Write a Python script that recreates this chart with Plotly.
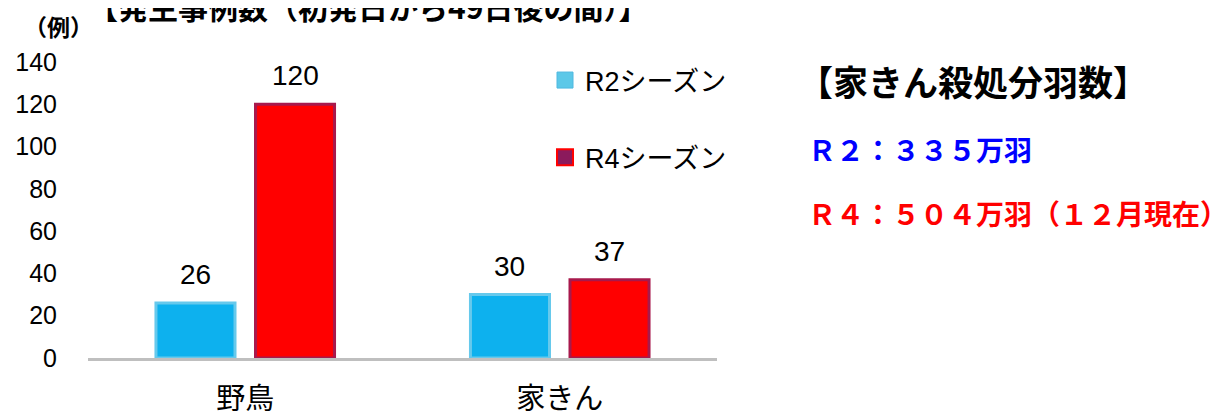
import plotly.graph_objects as go

categories = ["野鳥", "家きん"]
series_names = ["R2シーズン", "R4シーズン"]
r2_values = [26, 30]
r4_values = [120, 37]
y_ticks = [0, 20, 40, 60, 80, 100, 120, 140]

W, H = 1229, 411
OFF = 8  # page body margin
# plot area in screen pixels: x 88..717, y 62..358
L, T = 88 - OFF, 62 - OFF
R = W - (717 - OFF)
B = H - (358 - OFF)
PW, PH = W - L - R, H - T - B


def px_x(px):
    return (px - OFF - L) / PW


def px_y(py):
    return (H - B - (py - OFF)) / PH


JP = "Noto Sans CJK JP"
LAT = "Liberation Sans, Arial, Noto Sans CJK JP"

fig = go.Figure()
fig.add_trace(go.Bar(
    x=categories, y=r2_values, name=series_names[0], showlegend=False,
    marker=dict(color="#0DB1EE", line=dict(color="#66C9EC", width=3)),
))
fig.add_trace(go.Bar(
    x=categories, y=r4_values, name=series_names[1], showlegend=False,
    marker=dict(color="#FF0000", line=dict(color="#A8194C", width=3)),
))

# legend-only entries
fig.add_trace(go.Scatter(
    x=[None], y=[None], mode="markers", name=series_names[0], legendgroup="a",
    xaxis="x2", yaxis="y2",
    marker=dict(symbol="square", size=16, color="#5CC8E8", line=dict(color="#4FB8E0", width=1)),
))
fig.add_trace(go.Scatter(
    x=[None], y=[None], mode="markers", name=series_names[1], legendgroup="b",
    xaxis="x2", yaxis="y2",
    marker=dict(symbol="square", size=16, color="#8B1A5C", line=dict(color="#FF0000", width=2)),
))

# value labels
for vals, shift in ((r2_values, -50), (r4_values, 50)):
    for c, v in zip(categories, vals):
        fig.add_annotation(x=c, y=v, xref="x", yref="y", text=str(v), showarrow=False,
                           xshift=shift, yanchor="bottom", yshift=11,
                           font=dict(family=LAT, size=28, color="#000000"))

annots = [
    dict(text="<b>【発生事例数（初発日から49日後の間）】</b>", x=px_x(86), y=px_y(6), size=30, color="#000000"),
    dict(text="<b>（例）</b>", x=px_x(22), y=px_y(26), size=23, color="#000000"),
    dict(text="<b>【家きん殺処分羽数】</b>", x=px_x(796), y=px_y(81), size=35, color="#000000"),
    dict(text="<b>Ｒ２：３３５万羽</b>", x=px_x(806), y=px_y(149), size=28, color="#0000FF"),
    dict(text="<b>Ｒ４：５０４万羽（１２月現在）</b>", x=px_x(806), y=px_y(213), size=28, color="#FF0000"),
]
for a in annots:
    fig.add_annotation(text=a["text"], x=a["x"], y=a["y"], xref="paper", yref="paper",
                       xanchor="left", yanchor="middle", showarrow=False,
                       font=dict(family=JP, size=a["size"], color=a["color"]))

fig.update_layout(
    width=W, height=H,
    margin=dict(l=L, r=R, t=T, b=B, pad=0, autoexpand=False),
    paper_bgcolor="white", plot_bgcolor="white",
    barmode="group", bargap=0.367, bargroupgap=0.206,
    xaxis=dict(
        showgrid=False, showline=True, linecolor="#BFBFBF", linewidth=3,
        tickfont=dict(family=JP, size=29, color="#000000"),
        ticks="", ticklabelstandoff=13, automargin=False,
    ),
    yaxis=dict(
        range=[0, 140], tickvals=y_ticks, showgrid=False, showline=False,
        zeroline=False, ticks="", ticklabelstandoff=30, automargin=False,
        tickfont=dict(family=LAT, size=25, color="#000000"),
    ),
    xaxis2=dict(visible=False, overlaying="x", range=[0, 1]),
    yaxis2=dict(visible=False, overlaying="y", range=[0, 1]),
    legend=dict(
        x=px_x(545), y=px_y(56), xanchor="left", yanchor="top",
        font=dict(family=LAT, size=27, color="#000000"),
        tracegroupgap=39, bgcolor="rgba(0,0,0,0)",
    ),
    showlegend=True,
)

fig.write_html("out.html")
